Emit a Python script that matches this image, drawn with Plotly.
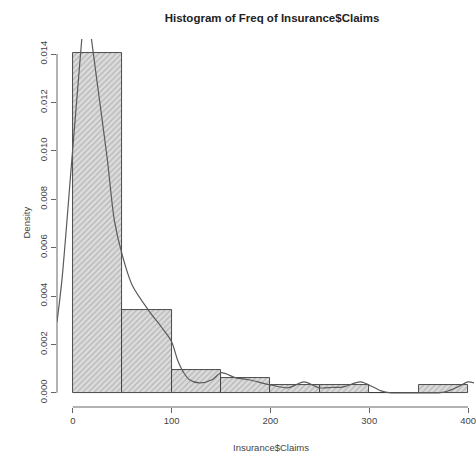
import plotly.graph_objects as go

# ---- data ----
bin_left = [0, 50, 100, 150, 200, 250, 300, 350]
bin_width = 50
density = [0.01406, 0.00344, 0.00094, 0.00063, 0.00031, 0.00031, 0.0, 0.00031]

kde_x = [-16, -11, -1, 9, 11, 13, 16, 19, 27, 35, 42, 50, 60, 77, 90, 100, 106, 112,
         118, 128, 141, 150, 165, 178, 200, 218, 234, 249, 262, 274, 291, 305, 312,
         322, 340, 355, 370, 377, 390, 400, 406]
kde_y = [0.00293, 0.00467, 0.00962, 0.01458, 0.0155, 0.0159, 0.0157, 0.01458, 0.0121,
         0.00962, 0.00714, 0.0057, 0.00446, 0.00339, 0.0027, 0.00211, 0.00136, 0.00085,
         0.00054, 0.00041, 0.00054, 0.00083, 0.00062, 0.00054, 0.00033, 0.00021, 0.00045,
         0.00021, 0.00022, 0.00025, 0.00045, 0.00022, 0.00008, 0.0, 0.0, 0.0, 0.0,
         0.00004, 0.00025, 0.00045, 0.00041]

x_ticks = [0, 100, 200, 300, 400]
y_ticks = [0.000, 0.002, 0.004, 0.006, 0.008, 0.010, 0.012, 0.014]
y_tick_labels = ["0.000", "0.002", "0.004", "0.006", "0.008", "0.010", "0.012", "0.014"]

title_text = "Histogram of Freq of Insurance$Claims"
x_label = "Insurance$Claims"
y_label = "Density"

W, H = 476, 453
axis_col = "#666666"
text_col = "#444444"
font = "Liberation Sans, Arial, sans-serif"

fig = go.Figure()
fig.add_trace(go.Bar(
    x=[b + bin_width / 2 for b in bin_left],
    y=density,
    width=[bin_width] * len(bin_left),
    marker=dict(
        color="#dadada",
        line=dict(color="#3a3a3a", width=0.9),
        pattern=dict(shape="/", fgcolor="#8c8c8c", bgcolor="#dcdcdc",
                     size=4, solidity=0.3),
    ),
    hoverinfo="skip",
))
fig.add_trace(go.Scatter(
    x=kde_x, y=kde_y, mode="lines",
    line=dict(color="#5a5a5a", width=1.2, shape="spline", smoothing=0.8),
    hoverinfo="skip",
))

# R-style axis lines spanning the tick range only
fig.add_shape(type="line", xref="x", yref="y domain",
              x0=min(x_ticks), x1=max(x_ticks), y0=0, y1=0,
              line=dict(color=axis_col, width=1))
fig.add_shape(type="line", xref="x domain", yref="y",
              x0=0, x1=0, y0=min(y_ticks), y1=max(y_ticks),
              line=dict(color=axis_col, width=1))

fig.add_annotation(text=y_label, xref="x domain", yref="y domain", x=0, y=0.5,
                   xshift=-39, textangle=-90, showarrow=False,
                   font=dict(family=font, size=9.5, color=text_col))
fig.add_annotation(text=x_label, xref="paper", yref="paper", x=(272 - 57) / (W - 57),
                   y=0, yshift=-40, showarrow=False, yanchor="middle",
                   font=dict(family=font, size=9.5, color=text_col))

fig.update_layout(
    width=W, height=H,
    margin=dict(l=57, r=0, t=39, b=46),
    paper_bgcolor="white", plot_bgcolor="white",
    showlegend=False, bargap=0,
    title=dict(text=title_text, x=272 / W, xanchor="center",
               y=1 - 18 / H, yanchor="middle", yref="container",
               font=dict(family=font, size=11.5, color="#222222", weight="bold")),
    xaxis=dict(range=[-16, 406], showgrid=False, zeroline=False, showline=False,
               tickvals=x_ticks, ticks="outside", ticklen=5, tickcolor=axis_col,
               ticklabeloverflow="allow",
               tickfont=dict(family=font, size=9.5, color=text_col)),
    yaxis=dict(range=[-0.000585, 0.01462], showgrid=False, zeroline=False,
               showline=False, tickvals=y_ticks, ticktext=y_tick_labels,
               ticks="outside", ticklen=5, tickcolor=axis_col, tickangle=-90,
               tickfont=dict(family=font, size=9.5, color=text_col)),
)

fig.write_html("out.html")
